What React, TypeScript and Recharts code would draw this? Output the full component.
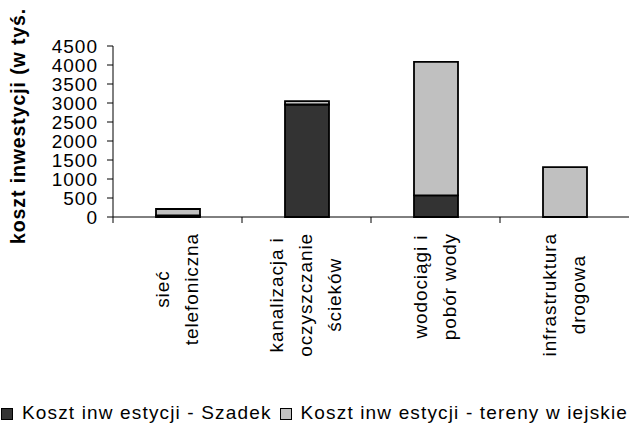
import { BarChart, Bar, XAxis, YAxis } from "recharts";

const CATEGORIES = [
  "sieć\ntelefoniczna",
  "kanalizacja i\noczyszczanie\nścieków",
  "wodociągi i\npobór wody",
  "infrastruktura\ndrogowa",
];
const SZADEK = [40, 2960, 570, 0];
const WIEJSKIE = [170, 90, 3510, 1310];
const Y_TICKS = [0, 500, 1000, 1500, 2000, 2500, 3000, 3500, 4000, 4500];

const SERIES = [
  { key: "szadek", label: "Koszt inw estycji - Szadek", color: "#333333" },
  { key: "wiejskie", label: "Koszt inw estycji - tereny w iejskie", color: "#C0C0C0" },
];

const data = CATEGORIES.map((name, i) => ({ name, szadek: SZADEK[i], wiejskie: WIEJSKIE[i] }));

const W = 629;
const H = 425;
const Y_AXIS_W = 113;
const BAND = (W - Y_AXIS_W) / CATEGORIES.length;
const FONT = '"Liberation Sans", Arial, sans-serif';

let ctx: CanvasRenderingContext2D | null = null;
function textWidth(s: string, size: number, spacing: number) {
  if (!ctx) ctx = document.createElement("canvas").getContext("2d");
  if (!ctx) return s.length * size * 0.5;
  ctx.font = `${size}px "Liberation Sans"`;
  return ctx.measureText(s).width + spacing * s.length;
}

function CategoryTick({ x, y, payload }: any) {
  const lines: string[] = String(payload.value).split("\n");
  const size = 19;
  const spacing = 0.9;
  const pitch = 29;
  const maxW = Math.max(...lines.map((l) => textWidth(l, size, spacing)));
  const first = (13.6 - (lines.length - 1) * pitch) / 2 - 1;
  return (
    <g>
      <line x1={x - BAND / 2} x2={x - BAND / 2} y1={y} y2={y + 6} stroke="#000" strokeWidth={1} />
      <g transform={`translate(${x},${y}) rotate(-90)`}>
        {lines.map((l, i) => (
          <text
            key={i}
            x={-(16 + maxW / 2)}
            y={first + i * pitch}
            textAnchor="middle"
            fontSize={size}
            fontFamily={FONT}
            letterSpacing={spacing}
            fill="#000"
          >
            {l}
          </text>
        ))}
      </g>
    </g>
  );
}

function AxisTitle({ viewBox }: any) {
  const bottom = viewBox.y + viewBox.height;
  return (
    <text
      transform="rotate(-90)"
      x={-(bottom + 27)}
      y={25}
      textAnchor="start"
      fontSize={19.5}
      fontWeight="bold"
      fontFamily={FONT}
      letterSpacing={0.9}
      fill="#000"
    >
      koszt inwestycji (w tyś.
    </text>
  );
}

export default function App() {
  return (
    <div style={{ position: "absolute", left: 0, top: 0, width: W, height: H, background: "#fff", overflow: "hidden" }}>
      <BarChart width={W} height={H} data={data} margin={{ top: 46, right: 0, bottom: 0, left: 0 }} barSize={44}>
        <XAxis
          dataKey="name"
          height={208}
          interval={0}
          tickLine={false}
          tickSize={0}
          tickMargin={0}
          axisLine={{ stroke: "#000", strokeWidth: 1 }}
          tick={<CategoryTick />}
        />
        <YAxis
          width={Y_AXIS_W}
          domain={[0, 4500]}
          ticks={Y_TICKS}
          interval={0}
          tickSize={6}
          tickMargin={9}
          axisLine={{ stroke: "#000", strokeWidth: 1 }}
          tickLine={{ stroke: "#000", strokeWidth: 1 }}
          tick={{ fill: "#000", fontSize: 19, fontFamily: FONT, letterSpacing: 1 }}
          label={{ content: AxisTitle }}
        />
        {SERIES.map((s) => (
          <Bar key={s.key} dataKey={s.key} stackId="a" fill={s.color} stroke="#000" strokeWidth={1.8} isAnimationActive={false} />
        ))}
      </BarChart>
      <div
        style={{
          position: "absolute",
          left: 1,
          top: 403,
          display: "flex",
          alignItems: "center",
          fontFamily: FONT,
          fontSize: 19,
          lineHeight: "19px",
          letterSpacing: 1.15,
          color: "#000",
          whiteSpace: "nowrap",
        }}
      >
        {SERIES.map((s) => (
          <span key={s.key} style={{ display: "flex", alignItems: "center", marginRight: 8 }}>
            <span
              style={{ width: 10, height: 10, border: "1px solid #000", background: s.color, marginRight: 9, marginTop: 3 }}
            />
            {s.label}
          </span>
        ))}
      </div>
    </div>
  );
}
